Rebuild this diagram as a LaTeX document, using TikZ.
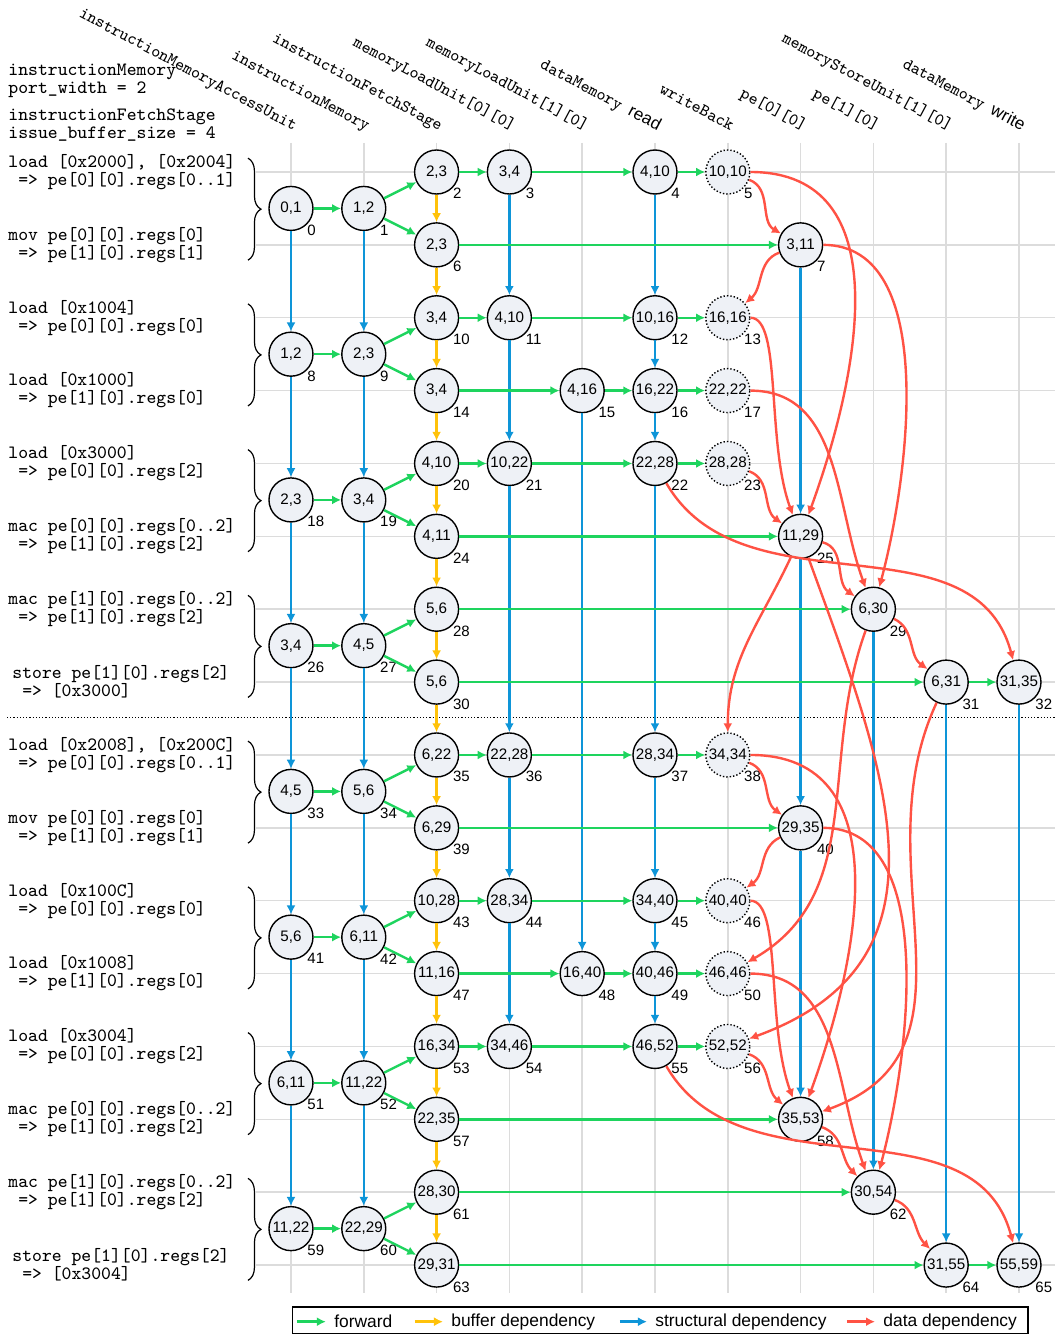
\documentclass[tikz,border=0pt]{standalone}
\usepackage{fontspec}
\newfontfamily\arial{Liberation Sans}
\usetikzlibrary{arrows.meta,decorations.pathreplacing}
\definecolor{fwdgreen}{HTML}{1ED45E}
\definecolor{bufyellow}{HTML}{FFC20A}
\definecolor{strucblue}{HTML}{0E95D8}
\definecolor{depred}{HTML}{FF5244}
\definecolor{opfill}{HTML}{EEF1F6}
\definecolor{gridgray}{HTML}{DCDCDC}

\begin{document}
\begin{tikzpicture}[x=36.4pt,y=-36.435pt,
	op/.style={shape=circle,draw=black,line width=0.7pt,fill=opfill,minimum size=22pt,inner sep=0pt,font=\arial\fontsize{7.6}{8}\selectfont},
	wb/.style={op,densely dotted},
	idx/.style={inner sep=0pt,font=\arial\fontsize{7.5}{8}\selectfont},
	fwd/.style={draw=fwdgreen,line width=1.2pt,-{Latex[length=4.5pt,width=4.5pt]}},
	buf/.style={fwd,draw=bufyellow},
	struc/.style={fwd,draw=strucblue},
	dep/.style={fwd,draw=depred},
	gridline/.style={draw=gridgray,line width=0.75pt},
	grp/.style={decorate,decoration={brace,amplitude=6.5pt},line width=0.6pt},
	instr/.style={anchor=west,align=left,inner sep=0pt,font=\ttfamily\fontsize{9.4}{9}\selectfont},
	unitlabel/.style={anchor=base east,rotate=-28,inner sep=0pt,font=\ttfamily\fontsize{8.6}{9}\selectfont},
	legendtext/.style={anchor=west,inner xsep=4pt,inner ysep=0pt,font=\arial\fontsize{8.7}{10}\selectfont}]
		\useasboundingbox (-3.997,-2.3604) rectangle (10.6044,15.946);
		
		\foreach \c in {0,...,10}
			\draw[gridline] (\c,-0.40) -- (\c,15.39);
		\foreach \r in {0,...,15}
			\draw[gridline] (-0.48,\r) -- (10.49,\r);
		\draw[densely dotted,line width=0.6pt] (-3.90,7.49) -- (10.49,7.49);
		\foreach \r in {0,2,...,14}
			\draw[grp] (-0.591,\r-0.19) -- (-0.591,\r+1.21);
		
		\node[unitlabel] (u0) at (0.04,-0.563) {instructionMemoryAccessUnit};
		\node[unitlabel] (u1) at (1.04,-0.563) {instructionMemory};
		\node[unitlabel] (u2) at (2.04,-0.563) {instructionFetchStage};
		\node[unitlabel] (u3) at (3.04,-0.563) {memoryLoadUnit[0][0]};
		\node[unitlabel] (u4) at (4.04,-0.563) {memoryLoadUnit[1][0]};
		\node[unitlabel] (u5) at (5.04,-0.563) {dataMemory {\arial read}};
		\node[unitlabel] (u6) at (6.04,-0.563) {writeBack};
		\node[unitlabel] (u7) at (7.04,-0.563) {pe[0][0]};
		\node[unitlabel] (u8) at (8.04,-0.563) {pe[1][0]};
		\node[unitlabel] (u9) at (9.04,-0.563) {memoryStoreUnit[1][0]};
		\node[unitlabel] (u10) at (10.04,-0.563) {dataMemory {\arial write}};
		
		\node[instr] (h0) at (-3.887,-1.250) {instructionMemory\\port\_width = 2};
		\node[instr] (h1) at (-3.887,-0.638) {instructionFetchStage\\issue\_buffer\_size = 4};
		
		\node[instr] (t0) at (-3.887,0) {load [0x2000], [0x2004]\\\ => pe[0][0].regs[0..1]};
		\node[instr] (t1) at (-3.887,1) {mov pe[0][0].regs[0]\\\ => pe[1][0].regs[1]};
		\node[instr] (t2) at (-3.887,2) {load [0x1004]\\\ => pe[0][0].regs[0]};
		\node[instr] (t3) at (-3.887,3) {load [0x1000]\\\ => pe[1][0].regs[0]};
		\node[instr] (t4) at (-3.887,4) {load [0x3000]\\\ => pe[0][0].regs[2]};
		\node[instr] (t5) at (-3.887,5) {mac pe[0][0].regs[0..2]\\\ => pe[1][0].regs[2]};
		\node[instr] (t6) at (-3.887,6) {mac pe[1][0].regs[0..2]\\\ => pe[1][0].regs[2]};
		\node[instr] (t7) at (-3.832,7) {store pe[1][0].regs[2]\\\ => [0x3000]};
		\node[instr] (t8) at (-3.887,8) {load [0x2008], [0x200C]\\\ => pe[0][0].regs[0..1]};
		\node[instr] (t9) at (-3.887,9) {mov pe[0][0].regs[0]\\\ => pe[1][0].regs[1]};
		\node[instr] (t10) at (-3.887,10) {load [0x100C]\\\ => pe[0][0].regs[0]};
		\node[instr] (t11) at (-3.887,11) {load [0x1008]\\\ => pe[1][0].regs[0]};
		\node[instr] (t12) at (-3.887,12) {load [0x3004]\\\ => pe[0][0].regs[2]};
		\node[instr] (t13) at (-3.887,13) {mac pe[0][0].regs[0..2]\\\ => pe[1][0].regs[2]};
		\node[instr] (t14) at (-3.887,14) {mac pe[1][0].regs[0..2]\\\ => pe[1][0].regs[2]};
		\node[instr] (t15) at (-3.832,15) {store pe[1][0].regs[2]\\\ => [0x3004]};
		
		\node[op,label={[idx]-45:0}] (n0) at (0,0.5) {0,1};
		\node[op,label={[idx]-45:1}] (n1) at (1,0.5) {1,2};
		\node[op,label={[idx]-45:2}] (n2) at (2,0) {2,3};
		\node[op,label={[idx]-45:3}] (n3) at (3,0) {3,4};
		\node[op,label={[idx]-45:4}] (n4) at (5,0) {4,10};
		\node[wb,label={[idx]-45:5}] (n5) at (6,0) {10,10};
		\node[op,label={[idx]-45:6}] (n6) at (2,1) {2,3};
		\node[op,label={[idx]-45:7}] (n7) at (7,1) {3,11};
		\node[op,label={[idx]-45:8}] (n8) at (0,2.5) {1,2};
		\node[op,label={[idx]-45:9}] (n9) at (1,2.5) {2,3};
		\node[op,label={[idx]-45:10}] (n10) at (2,2) {3,4};
		\node[op,label={[idx]-45:11}] (n11) at (3,2) {4,10};
		\node[op,label={[idx]-45:12}] (n12) at (5,2) {10,16};
		\node[wb,label={[idx]-45:13}] (n13) at (6,2) {16,16};
		\node[op,label={[idx]-45:14}] (n14) at (2,3) {3,4};
		\node[op,label={[idx]-45:15}] (n15) at (4,3) {4,16};
		\node[op,label={[idx]-45:16}] (n16) at (5,3) {16,22};
		\node[wb,label={[idx]-45:17}] (n17) at (6,3) {22,22};
		\node[op,label={[idx]-45:18}] (n18) at (0,4.5) {2,3};
		\node[op,label={[idx]-45:19}] (n19) at (1,4.5) {3,4};
		\node[op,label={[idx]-45:20}] (n20) at (2,4) {4,10};
		\node[op,label={[idx]-45:21}] (n21) at (3,4) {10,22};
		\node[op,label={[idx]-45:22}] (n22) at (5,4) {22,28};
		\node[wb,label={[idx]-45:23}] (n23) at (6,4) {28,28};
		\node[op,label={[idx]-45:24}] (n24) at (2,5) {4,11};
		\node[op,label={[idx]-45:25}] (n25) at (7,5) {11,29};
		\node[op,label={[idx]-45:26}] (n26) at (0,6.5) {3,4};
		\node[op,label={[idx]-45:27}] (n27) at (1,6.5) {4,5};
		\node[op,label={[idx]-45:28}] (n28) at (2,6) {5,6};
		\node[op,label={[idx]-45:29}] (n29) at (8,6) {6,30};
		\node[op,label={[idx]-45:30}] (n30) at (2,7) {5,6};
		\node[op,label={[idx]-45:31}] (n31) at (9,7) {6,31};
		\node[op,label={[idx]-45:32}] (n32) at (10,7) {31,35};
		
		\node[op,label={[idx]-45:33}] (n33) at (0,8.5) {4,5};
		\node[op,label={[idx]-45:34}] (n34) at (1,8.5) {5,6};
		\node[op,label={[idx]-45:35}] (n35) at (2,8) {6,22};
		\node[op,label={[idx]-45:36}] (n36) at (3,8) {22,28};
		\node[op,label={[idx]-45:37}] (n37) at (5,8) {28,34};
		\node[wb,label={[idx]-45:38}] (n38) at (6,8) {34,34};
		\node[op,label={[idx]-45:39}] (n39) at (2,9) {6,29};
		\node[op,label={[idx]-45:40}] (n40) at (7,9) {29,35};
		\node[op,label={[idx]-45:41}] (n41) at (0,10.5) {5,6};
		\node[op,label={[idx]-45:42}] (n42) at (1,10.5) {6,11};
		\node[op,label={[idx]-45:43}] (n43) at (2,10) {10,28};
		\node[op,label={[idx]-45:44}] (n44) at (3,10) {28,34};
		\node[op,label={[idx]-45:45}] (n45) at (5,10) {34,40};
		\node[wb,label={[idx]-45:46}] (n46) at (6,10) {40,40};
		\node[op,label={[idx]-45:47}] (n47) at (2,11) {11,16};
		\node[op,label={[idx]-45:48}] (n48) at (4,11) {16,40};
		\node[op,label={[idx]-45:49}] (n49) at (5,11) {40,46};
		\node[wb,label={[idx]-45:50}] (n50) at (6,11) {46,46};
		\node[op,label={[idx]-45:51}] (n51) at (0,12.5) {6,11};
		\node[op,label={[idx]-45:52}] (n52) at (1,12.5) {11,22};
		\node[op,label={[idx]-45:53}] (n53) at (2,12) {16,34};
		\node[op,label={[idx]-45:54}] (n54) at (3,12) {34,46};
		\node[op,label={[idx]-45:55}] (n55) at (5,12) {46,52};
		\node[wb,label={[idx]-45:56}] (n56) at (6,12) {52,52};
		\node[op,label={[idx]-45:57}] (n57) at (2,13) {22,35};
		\node[op,label={[idx]-45:58}] (n58) at (7,13) {35,53};
		\node[op,label={[idx]-45:59}] (n59) at (0,14.5) {11,22};
		\node[op,label={[idx]-45:60}] (n60) at (1,14.5) {22,29};
		\node[op,label={[idx]-45:61}] (n61) at (2,14) {28,30};
		\node[op,label={[idx]-45:62}] (n62) at (8,14) {30,54};
		\node[op,label={[idx]-45:63}] (n63) at (2,15) {29,31};
		\node[op,label={[idx]-45:64}] (n64) at (9,15) {31,55};
		\node[op,label={[idx]-45:65}] (n65) at (10,15) {55,59};
		
		\path (n0) edge[struc] (n8);
		\path (n8) edge[struc] (n18);
		\path (n18) edge[struc] (n26);
		\path (n26) edge[struc] (n33);
		\path (n33) edge[struc] (n41);
		\path (n41) edge[struc] (n51);
		\path (n51) edge[struc] (n59);
		\path (n1) edge[struc] (n9);
		\path (n9) edge[struc] (n19);
		\path (n19) edge[struc] (n27);
		\path (n27) edge[struc] (n34);
		\path (n34) edge[struc] (n42);
		\path (n42) edge[struc] (n52);
		\path (n52) edge[struc] (n60);
		\path (n3) edge[struc] (n11);
		\path (n11) edge[struc] (n21);
		\path (n21) edge[struc] (n36);
		\path (n36) edge[struc] (n44);
		\path (n44) edge[struc] (n54);
		\path (n15) edge[struc] (n48);
		\path (n4) edge[struc] (n12);
		\path (n12) edge[struc] (n16);
		\path (n16) edge[struc] (n22);
		\path (n22) edge[struc] (n37);
		\path (n37) edge[struc] (n45);
		\path (n45) edge[struc] (n49);
		\path (n49) edge[struc] (n55);
		\path (n7) edge[struc] (n25);
		\path (n25) edge[struc] (n40);
		\path (n40) edge[struc] (n58);
		\path (n29) edge[struc] (n62);
		\path (n31) edge[struc] (n64);
		\path (n32) edge[struc] (n65);
		
		\path (n0) edge[fwd] (n1);
		\path (n1) edge[fwd] (n2);
		\path (n1) edge[fwd] (n6);
		\path (n2) edge[fwd] (n3);
		\path (n3) edge[fwd] (n4);
		\path (n4) edge[fwd] (n5);
		\path (n6) edge[fwd] (n7);
		\path (n8) edge[fwd] (n9);
		\path (n9) edge[fwd] (n10);
		\path (n9) edge[fwd] (n14);
		\path (n10) edge[fwd] (n11);
		\path (n11) edge[fwd] (n12);
		\path (n12) edge[fwd] (n13);
		\path (n14) edge[fwd] (n15);
		\path (n15) edge[fwd] (n16);
		\path (n16) edge[fwd] (n17);
		\path (n18) edge[fwd] (n19);
		\path (n19) edge[fwd] (n20);
		\path (n19) edge[fwd] (n24);
		\path (n20) edge[fwd] (n21);
		\path (n21) edge[fwd] (n22);
		\path (n22) edge[fwd] (n23);
		\path (n24) edge[fwd] (n25);
		\path (n26) edge[fwd] (n27);
		\path (n27) edge[fwd] (n28);
		\path (n27) edge[fwd] (n30);
		\path (n28) edge[fwd] (n29);
		\path (n30) edge[fwd] (n31);
		\path (n31) edge[fwd] (n32);
		\path (n33) edge[fwd] (n34);
		\path (n34) edge[fwd] (n35);
		\path (n34) edge[fwd] (n39);
		\path (n35) edge[fwd] (n36);
		\path (n36) edge[fwd] (n37);
		\path (n37) edge[fwd] (n38);
		\path (n39) edge[fwd] (n40);
		\path (n41) edge[fwd] (n42);
		\path (n42) edge[fwd] (n43);
		\path (n42) edge[fwd] (n47);
		\path (n43) edge[fwd] (n44);
		\path (n44) edge[fwd] (n45);
		\path (n45) edge[fwd] (n46);
		\path (n47) edge[fwd] (n48);
		\path (n48) edge[fwd] (n49);
		\path (n49) edge[fwd] (n50);
		\path (n51) edge[fwd] (n52);
		\path (n52) edge[fwd] (n53);
		\path (n52) edge[fwd] (n57);
		\path (n53) edge[fwd] (n54);
		\path (n54) edge[fwd] (n55);
		\path (n55) edge[fwd] (n56);
		\path (n57) edge[fwd] (n58);
		\path (n59) edge[fwd] (n60);
		\path (n60) edge[fwd] (n61);
		\path (n60) edge[fwd] (n63);
		\path (n61) edge[fwd] (n62);
		\path (n63) edge[fwd] (n64);
		\path (n64) edge[fwd] (n65);
		
		\path (n2) edge[buf] (n6);
		\path (n6) edge[buf] (n10);
		\path (n10) edge[buf] (n14);
		\path (n14) edge[buf] (n20);
		\path (n20) edge[buf] (n24);
		\path (n24) edge[buf] (n28);
		\path (n28) edge[buf] (n30);
		\path (n30) edge[buf] (n35);
		\path (n35) edge[buf] (n39);
		\path (n39) edge[buf] (n43);
		\path (n43) edge[buf] (n47);
		\path (n47) edge[buf] (n53);
		\path (n53) edge[buf] (n57);
		\path (n57) edge[buf] (n61);
		\path (n61) edge[buf] (n63);
		
		\path (n5) edge[dep,out=-20,in=150] (n7);
		\path (n7) edge[dep,out=200,in=40] (n13);
		\path (n5) edge[dep,out=0,in=70,looseness=1.1] (n25);
		\path (n13) edge[dep,out=0,in=110,out looseness=0.4] (n25);
		\path (n23) edge[dep,out=-20,in=145] (n25);
		\path (n7) edge[dep,out=0,in=75,looseness=0.85] (n29);
		\path (n17) edge[dep,out=0,in=110] (n29);
		\path (n25) edge[dep,out=-15,in=145] (n29);
		\path (n29) edge[dep,out=-25,in=145] (n31);
		\path (n22) edge[dep,out=-60,in=105] (n32);
		\path (n25) edge[dep,out=-115,in=90] (n38);
		\path (n25) edge[dep,out=-70,in=20,looseness=1.2] (n56);
		\path (n29) edge[dep,out=-110,in=30] (n50);
		\path (n31) edge[dep,out=-115,in=20,looseness=1.1] (n58);
		\path (n38) edge[dep,out=-20,in=145] (n40);
		\path (n40) edge[dep,out=205,in=35] (n46);
		\path (n38) edge[dep,out=0,in=70,looseness=1.1] (n58);
		\path (n46) edge[dep,out=0,in=110,out looseness=0.4] (n58);
		\path (n56) edge[dep,out=-20,in=140] (n58);
		\path (n40) edge[dep,out=0,in=75,looseness=0.85] (n62);
		\path (n50) edge[dep,out=0,in=110] (n62);
		\path (n58) edge[dep,out=-20,in=135] (n62);
		\path (n62) edge[dep,out=-20,in=135] (n64);
		\path (n55) edge[dep,out=-60,in=105] (n65);
		
		\draw[line width=0.6pt] (0.020,15.575) rectangle (10.124,15.935);
		\coordinate (k0) at (0.082,15.777);
		\coordinate (k1) at (1.703,15.777);
		\coordinate (k2) at (4.519,15.777);
		\coordinate (k3) at (7.637,15.777);
		\node[legendtext] (l0) at (0.479,15.777) {forward};
		\node[legendtext] (l1) at (2.088,15.777) {buffer dependency};
		\node[legendtext] (l2) at (4.890,15.777) {structural dependency};
		\node[legendtext] (l3) at (8.022,15.777) {data dependency};
		\path (k0) edge[fwd] (l0);
		\path (k1) edge[buf] (l1);
		\path (k2) edge[struc] (l2);
		\path (k3) edge[dep] (l3);
\end{tikzpicture}
\end{document}
